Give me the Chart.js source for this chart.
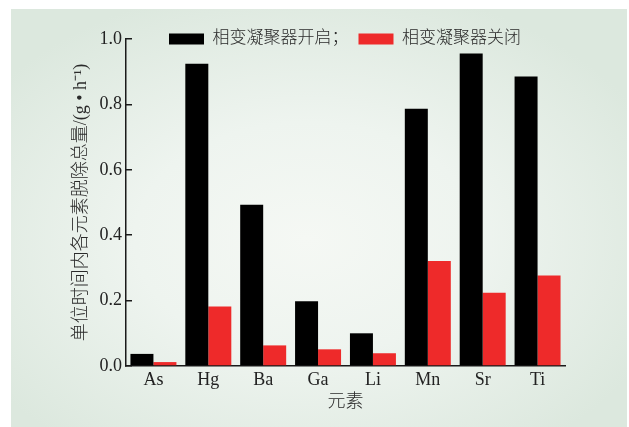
<!DOCTYPE html>
<html>
<head>
<meta charset="utf-8">
<script src="https://cdn.jsdelivr.net/npm/chart.js@4/dist/chart.umd.min.js"></script>
<style>
  html, body { margin: 0; padding: 0; background: #ffffff; }
  #wrap { position: relative; width: 629px; height: 427px; }
  #panel {
    position: absolute; left: 11px; top: 9px; width: 616px; height: 418px;
    background: radial-gradient(ellipse 62% 62% at 48% 55%, #f5f8f4 0%, #eef4ef 45%, #dce8de 100%);
  }
  #chart { position: absolute; left: 0; top: 0; }
</style>
</head>
<body>
<div id="wrap">
  <div id="panel"></div>
  <canvas id="chart" width="629" height="427"></canvas>
</div>
<script>
// Elements on the x axis
const elements = ['As', 'Hg', 'Ba', 'Ga', 'Li', 'Mn', 'Sr', 'Ti'];
// Total removal per unit time, g·h⁻¹
const condenserOn  = [0.037, 0.924, 0.493, 0.198, 0.100, 0.787, 0.956, 0.885];
const condenserOff = [0.012, 0.182, 0.063, 0.051, 0.039, 0.321, 0.224, 0.277];
const seriesNames = ['相变凝聚器开启；', '相变凝聚器关闭'];
const yTicks = [0, 0.2, 0.4, 0.6, 0.8, 1.0];

const SERIF = '"Liberation Serif", "Times New Roman", "Noto Sans CJK SC", serif';
const INK = '#222222';

// Places the legend row inside the top of the plot area
const legendPlacer = {
  id: 'legendPlacer',
  afterLayout(chart) {
    const lg = chart.legend;
    if (!lg) return;
    const dx = 159 - lg.left;
    const dy = 20.5 - lg.top;
    lg.left += dx; lg.right += dx;
    lg.top += dy; lg.bottom += dy;
  }
};

new Chart(document.getElementById('chart'), {
  type: 'bar',
  data: {
    labels: elements,
    datasets: [
      { label: seriesNames[0], data: condenserOn, backgroundColor: '#000000', borderWidth: 0 },
      { label: seriesNames[1], data: condenserOff, backgroundColor: '#ee2a2a', borderWidth: 0 }
    ]
  },
  plugins: [legendPlacer],
  options: {
    responsive: false,
    animation: false,
    layout: { padding: { left: 66, right: 64, top: 2, bottom: 10 } },
    categoryPercentage: 0.838,
    barPercentage: 1.0,
    plugins: {
      tooltip: { enabled: false },
      legend: {
        position: 'top',
        align: 'start',
        labels: {
          boxWidth: 35,
          boxHeight: 11,
          padding: 10,
          color: '#2a2a2a',
          font: { family: SERIF, size: 17, weight: '300' }
        }
      }
    },
    scales: {
      x: {
        grid: { display: false, drawTicks: false },
        border: { display: true, color: '#1a1a1a', width: 1.5 },
        ticks: { color: INK, padding: 3, font: { family: SERIF, size: 18 } },
        title: { display: true, text: '元素', color: '#2a2a2a', font: { family: SERIF, size: 18, weight: '300' } },
        afterFit(scale) { scale.height = 51; }
      },
      y: {
        min: 0,
        max: 1.0,
        afterBuildTicks(scale) { scale.ticks = yTicks.map(v => ({ value: v })); },
        grid: {
          display: true,
          drawOnChartArea: false,
          drawTicks: true,
          tickLength: -6,
          color: '#1a1a1a',
          lineWidth: 1.5
        },
        border: { display: true, color: '#1a1a1a', width: 1.5 },
        ticks: {
          color: INK,
          padding: 10,
          font: { family: SERIF, size: 18 },
          callback: v => Number(v).toFixed(1)
        },
        title: {
          display: true,
          text: '单位时间内各元素脱除总量/(g • h⁻¹)',
          color: '#2a2a2a',
          font: { family: SERIF, size: 18, weight: '300' }
        },
        afterFit(scale) { scale.width = 60; }
      }
    }
  }
});
</script>
</body>
</html>
